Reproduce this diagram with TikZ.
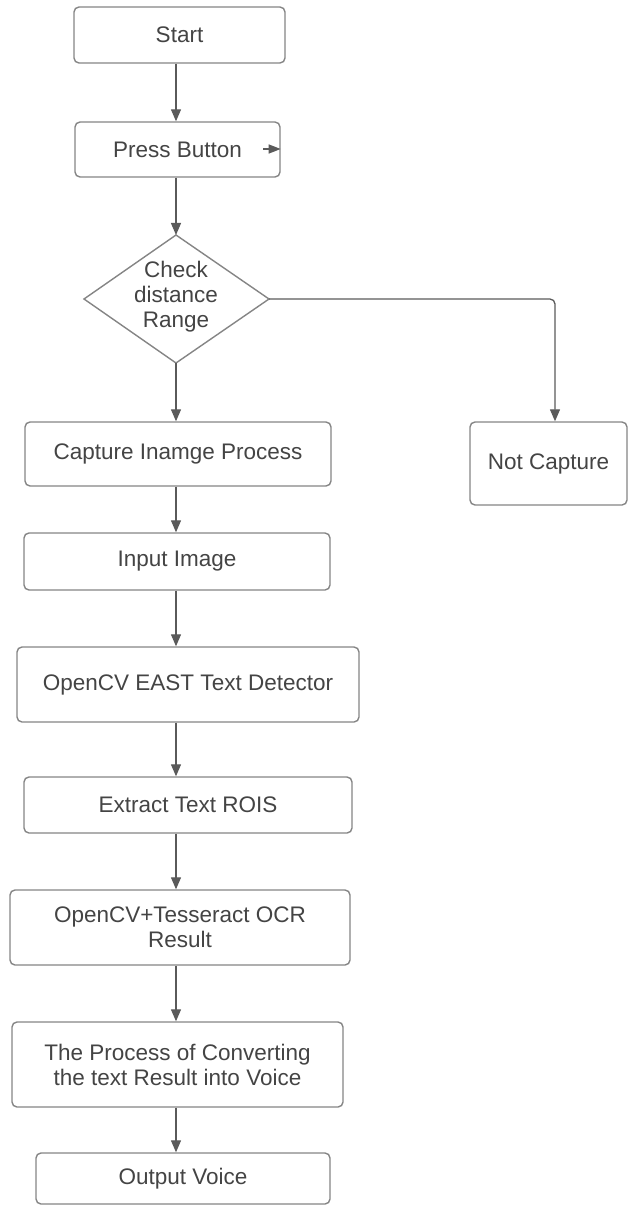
\documentclass[tikz,border=0pt]{standalone}
\usepackage{fontspec}
\setmainfont{Liberation Sans}
\usetikzlibrary{arrows.meta}
\definecolor{boxline}{HTML}{858585}
\definecolor{conline}{HTML}{5A5A5A}
\definecolor{txt}{HTML}{444444}
\tikzset{
  box/.style={draw=boxline, line width=1.4pt, rounded corners=5pt, fill=white,
    text=txt, align=center, inner sep=0pt, font=\fontsize{22.5}{25}\selectfont},
  lbl/.style={text=txt, align=center, inner sep=0pt, font=\fontsize{22.5}{25}\selectfont},
  arr/.style={draw=conline, line width=1.3pt, -{Triangle[length=12pt,width=10pt]}},
}
\begin{document}
\begin{tikzpicture}[x=1pt,y=-1pt]
\useasboundingbox (0,0) rectangle (629,1206);
\coordinate (ax) at (176,0);
% boxes
\node[box, minimum width=211pt, minimum height=56pt] (start) at (179.5,35) {Start};
\node[box, minimum width=205pt, minimum height=55pt] (press) at (177.5,149.5) {Press Button};
% diamond
\coordinate (dtop) at (176,235);
\coordinate (dright) at (269,299);
\coordinate (dbot) at (176,363);
\coordinate (dleft) at (84,299);
\draw[boxline, line width=1.4pt, fill=white] (dtop) -- (dright) -- (dbot) -- (dleft) -- cycle;
\node[lbl] (check) at (176,297) {Check\\distance\\Range};
\node[box, minimum width=306pt, minimum height=64pt] (capture) at (178,454) {Capture Inamge Process};
\node[box, minimum width=157pt, minimum height=83pt] (notcap) at (548.5,463.5) {Not Capture};
\node[box, minimum width=306pt, minimum height=57pt] (input) at (177,561.5) {Input Image};
\node[box, minimum width=342pt, minimum height=75pt] (east) at (188,684.5) {OpenCV EAST Text Detector};
\node[box, minimum width=328pt, minimum height=56pt] (extract) at (188,805) {Extract Text ROIS};
\node[box, minimum width=340pt, minimum height=75pt] (tess) at (180,927.5) {OpenCV+Tesseract OCR\\Result};
\node[box, minimum width=331pt, minimum height=85pt] (conv) at (177.5,1064.5) {The Process of Converting\\the text Result into Voice};
\node[box, minimum width=294pt, minimum height=51pt] (out) at (183,1178.5) {Output Voice};
% connectors
\draw[arr] (start.south -| ax) -- (press.north -| ax);
\draw[arr] (press.south -| ax) -- (dtop);
\draw[arr] (dbot) -- (capture.north -| dbot);
\draw[arr, rounded corners=5pt] (dright) -| (notcap.north -| 555,0);
\draw[arr] (capture.south -| ax) -- (input.north -| ax);
\draw[arr] (input.south -| ax) -- (east.north -| ax);
\draw[arr] (east.south -| ax) -- (extract.north -| ax);
\draw[arr] (extract.south -| ax) -- (tess.north -| ax);
\draw[arr] (tess.south -| ax) -- (conv.north -| ax);
\draw[arr] (conv.south -| ax) -- (out.north -| ax);
% small stub arrow inside Press Button
\coordinate (stub) at (263,149);
\draw[conline, line width=1.3pt, -{Triangle[length=12pt,width=9pt]}] (stub) -- (press.east |- stub);
\end{tikzpicture}
\end{document}
